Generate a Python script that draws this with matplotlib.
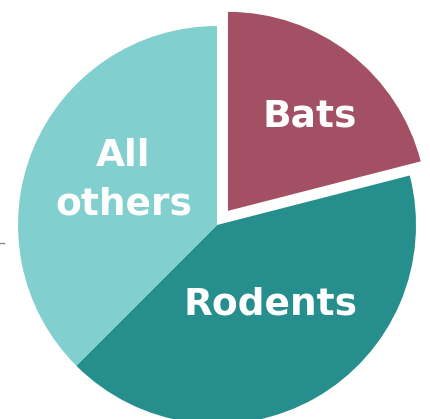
import matplotlib
matplotlib.use("Agg")
import matplotlib.pyplot as plt
from matplotlib.lines import Line2D

# slice data, clockwise from the top
labels = ["Bats", "Rodents", "All\nothers"]
shares = [21, 41.5, 37.5]
colors = ["#A35064", "#268E8C", "#82CFCF"]
explode = [0.09, 0, 0]
# label anchor positions (data coords, radius = 1)
label_x = [0.465, 0.27, -0.47]
label_y = [0.545, -0.40, 0.225]

fig = plt.figure(figsize=(4.31, 4.19), dpi=100)
ax = fig.add_axes([0, 0, 1, 1])

ax.pie(shares, colors=colors, explode=explode, startangle=90,
       counterclock=False, radius=1,
       wedgeprops=dict(linewidth=0))

for lab, x, y in zip(labels, label_x, label_y):
    ax.text(x, y, lab, ha="center", va="center", color="white",
            fontsize=27, fontweight="bold", linespacing=1.45,
            family="DejaVu Sans")

# keep the pie where it sits in the reference (center 217,225 px, r 199 px)
ax.set_xlim(-217 / 199, (431 - 217) / 199)
ax.set_ylim(-(419 - 225) / 199, 225 / 199)
ax.set_aspect("auto")
ax.axis("off")

# stray little tick on the left edge
fig.add_artist(Line2D([0, 4 / 431], [1 - 243 / 419, 1 - 243 / 419],
                      color="#888888", linewidth=1))

fig.savefig("out.png", dpi=100)
